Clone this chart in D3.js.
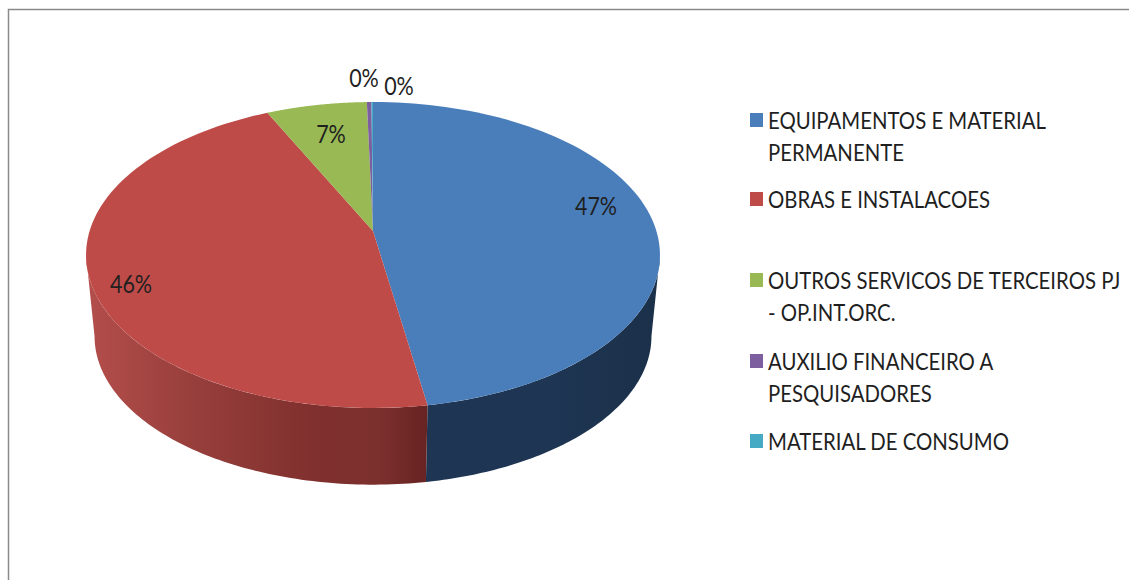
<!DOCTYPE html>
<html>
<head>
<meta charset="utf-8">
<script src="https://cdn.jsdelivr.net/npm/d3@7/dist/d3.min.js"></script>
<style>
  html, body { margin: 0; padding: 0; background: #fff; }
  svg { display: block; }
  text { font-family: Lato, "Liberation Sans", sans-serif; fill: #1f1f1f; }
</style>
</head>
<body>
<svg id="chart" width="1129" height="580"></svg>
<script>
// Budget execution by expense group
const categories = [
  "EQUIPAMENTOS E MATERIAL PERMANENTE",
  "OBRAS E INSTALACOES",
  "OUTROS SERVICOS DE TERCEIROS PJ - OP.INT.ORC.",
  "AUXILIO FINANCEIRO A PESQUISADORES",
  "MATERIAL DE CONSUMO"
];
const shares = [47.4, 45.6, 6.6, 0.3, 0.1];
const percentLabels = ["47%", "46%", "7%", "0%", "0%"];
const legendLines = [
  ["EQUIPAMENTOS E MATERIAL", "PERMANENTE"],
  ["OBRAS E INSTALACOES"],
  ["OUTROS SERVICOS DE TERCEIROS PJ", "- OP.INT.ORC."],
  ["AUXILIO FINANCEIRO A", "PESQUISADORES"],
  ["MATERIAL DE CONSUMO"]
];
const topColors = ["#4a7ebb", "#be4b48", "#98b954", "#7d5fa0", "#46aac5"];

const svg = d3.select("#chart");
const W = 1129, H = 580;

// Chart frame: runs off the right and bottom of the page
svg.append("path")
  .attr("d", `M8.5,${H} V9.5 H${W}`)
  .attr("fill", "none").attr("stroke", "#8a8a8a").attr("stroke-width", 1.5);

// Perspective projection of the disc: far rim is compressed, near rim stretched
const persp = 0.157;
const project = (plane) => (a) => {
  const d = 1 + persp * Math.cos(a);
  return [plane.cx + plane.k * Math.sin(a) / d, plane.cy - plane.h * Math.cos(a) / d];
};
const topPlane = { cx: 373, cy: 231, k: 283.4, h: 149.2 };
const basePlane = { cx: 373, cy: 313, k: 275, h: 144.7 };
const topAt = project(topPlane), baseAt = project(basePlane);

const arcs = d3.pie().sort(null).value(d => d)(shares);
const line = d3.line();
const sweep = (a0, a1, n = 90) => d3.range(n + 1).map(i => a0 + (a1 - a0) * i / n);

// Gradients for the rim wall
const defs = svg.append("defs");
const wallGradient = (id, x1, x2, stops) => {
  const g = defs.append("linearGradient").attr("id", id)
    .attr("gradientUnits", "userSpaceOnUse")
    .attr("x1", x1).attr("x2", x2).attr("y1", 0).attr("y2", 0);
  stops.forEach(([o, c]) => g.append("stop").attr("offset", o).attr("stop-color", c));
};
wallGradient("wall-red", 88, 430, [[0, "#b34e4b"], [0.3, "#983f3c"], [0.65, "#80302e"], [0.85, "#7c302e"], [1, "#652321"]]);
wallGradient("wall-blue", 428, 660, [[0, "#1e3554"], [0.5, "#1e3654"], [1, "#1b3049"]]);

// The wall is visible on the near half; each visible slice gets its own band
const wallStart = Math.acos(-persp), wallEnd = 2 * Math.PI - wallStart;
const wallFills = ["url(#wall-blue)", "url(#wall-red)"];
arcs.slice(0, 2).forEach((s, i) => {
  const a0 = Math.max(s.startAngle, wallStart), a1 = Math.min(s.endAngle, wallEnd);
  const angles = sweep(a0, a1);
  svg.append("path")
    .attr("d", line([...angles.map(topAt), ...angles.slice().reverse().map(baseAt)]) + "Z")
    .attr("fill", wallFills[i]);
});

// Top face of every slice
svg.append("g").selectAll("path").data(arcs).join("path")
  .attr("d", s => line([[topPlane.cx, topPlane.cy], ...sweep(s.startAngle, s.endAngle).map(topAt)]) + "Z")
  .attr("fill", (s, i) => topColors[i]);

// Percent labels
const labelPos = [[596, 215], [131, 293], [331, 143], [364, 87], [399, 95]];
svg.append("g").selectAll("text").data(percentLabels).join("text")
  .attr("transform", (d, i) => `translate(${labelPos[i][0]},${labelPos[i][1]}) scale(0.86,1)`)
  .attr("text-anchor", "middle").attr("font-size", 25)
  .text(d => d);

// Legend
const legendY = [129, 208, 289, 370, 450];
const legend = svg.append("g");
legendLines.forEach((lines, i) => {
  legend.append("rect").attr("x", 750).attr("y", legendY[i] - 16)
    .attr("width", 13).attr("height", 14).attr("fill", topColors[i]);
  lines.forEach((t, j) => {
    legend.append("text")
      .attr("transform", `translate(768,${legendY[i] + j * 31.5}) scale(0.885,1)`)
      .attr("font-size", 23).text(t);
  });
});
</script>
</body>
</html>
